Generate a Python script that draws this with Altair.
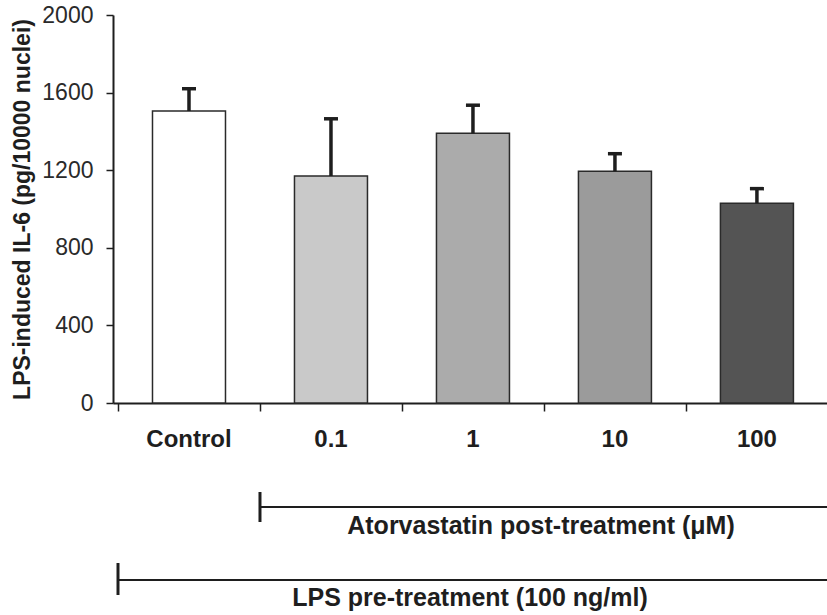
import altair as alt
import pandas as pd

# ---- data ----
categories = ["Control", "0.1", "1", "10", "100"]
means = [1505, 1170, 1390, 1195, 1030]
errors = [115, 295, 145, 90, 75]
bar_colors = ["#ffffff", "#c9c9c9", "#ababab", "#9b9b9b", "#545454"]
y_ticks = [0, 400, 800, 1200, 1600, 2000]
y_title = "LPS-induced IL-6 (pg/10000 nuclei)"
bracket_labels = ["Atorvastatin post-treatment (\u03bcM)", "LPS pre-treatment (100 ng/ml)"]
bracket_start = ["0.1", "Control"]

# ---- layout ----
FONT = "Liberation Sans"
INK = "#1e1e1e"
W, H = 714, 388
STEP = 144.0
X_MAX = W / STEP

df = pd.DataFrame({"cat": categories, "idx": list(range(len(categories))),
                   "mean": means, "err": errors})

xscale = alt.Scale(domain=[0, X_MAX], nice=False, zero=False)
yscale = alt.Scale(domain=[0, 2000], nice=False)
xaxis = alt.Axis(values=list(range(len(categories))), labels=False, title=None, grid=False,
                 tickSize=8, tickWidth=1.5, tickColor=INK, domainColor=INK, domainWidth=2)
yaxis = alt.Axis(values=y_ticks, format="d", title=y_title, grid=False, tickSize=7, tickWidth=1.5,
                 tickColor=INK, domainColor=INK, domainWidth=2,
                 labelFont=FONT, labelFontSize=23, labelColor="#2a2a2a", labelPadding=13,
                 titleFont=FONT, titleFontSize=23, titleFontWeight="bold", titleColor=INK,
                 titleAngle=270, titleAlign="center", titleBaseline="middle",
                 titleX=-91, titleY=194)


def xq(field):
    return alt.X(field, type="quantitative", scale=xscale, axis=xaxis)


def yq(field):
    return alt.Y(field, type="quantitative", scale=yscale, axis=yaxis)


base = alt.Chart(df).transform_calculate(pos="datum.idx + 0.5", top="datum.mean + datum.err")

bars = base.mark_bar(width=73, orient="vertical", stroke="#2a2a2a", strokeWidth=1.5).encode(
    x=xq("pos"), y=yq("mean"),
    color=alt.Color("cat:N", scale=alt.Scale(domain=categories, range=bar_colors), legend=None),
)
stems = base.mark_rule(strokeWidth=3.5, color=INK).encode(x=xq("pos"), y=yq("mean"), y2="top:Q")
caps = base.mark_rule(strokeWidth=3.5, color=INK, xOffset=-7, x2Offset=7).encode(
    x=xq("pos"), x2="pos:Q", y=yq("top"))
cat_labels = base.mark_text(font=FONT, fontSize=24, fontWeight="bold", color=INK,
                            baseline="middle", align="center").encode(
    x=xq("pos"), y=alt.value(425), text="cat:N")

layers = [bars, stems, caps, cat_labels]

# brackets below the axis: (line y, tick top, tick bottom, text baseline)
bracket_layout = [(492, 477, 507, 519), (565, 548, 580, 591)]
for label, start, (ly, t1, t2, ty) in zip(bracket_labels, bracket_start, bracket_layout):
    bdf = pd.DataFrame({"label": [label], "start": [categories.index(start)]})
    b = alt.Chart(bdf).transform_calculate(mid=f"(datum.start + {X_MAX}) / 2")
    layers.append(b.mark_rule(strokeWidth=2, color=INK).encode(
        x=xq("start"), x2=alt.value(W), y=alt.value(ly)))
    layers.append(b.mark_rule(strokeWidth=3, color=INK).encode(
        x=xq("start"), y=alt.value(t1), y2=alt.value(t2)))
    layers.append(b.mark_text(font=FONT, fontSize=25, fontWeight="bold", color=INK,
                              align="center", baseline="alphabetic").encode(
        x=xq("mid"), y=alt.value(ty), text="label:N"))

chart = alt.layer(*layers).properties(
    width=W, height=H,
    autosize=alt.AutoSizeParams(type="none"),
    padding={"left": 113, "top": 15, "right": 0, "bottom": 212},
    background="white",
).configure_view(stroke=None).configure_axisY(labelFont=FONT, labelFontSize=23)

chart.save("out.html", embed_options={"renderer": "svg", "actions": False})
